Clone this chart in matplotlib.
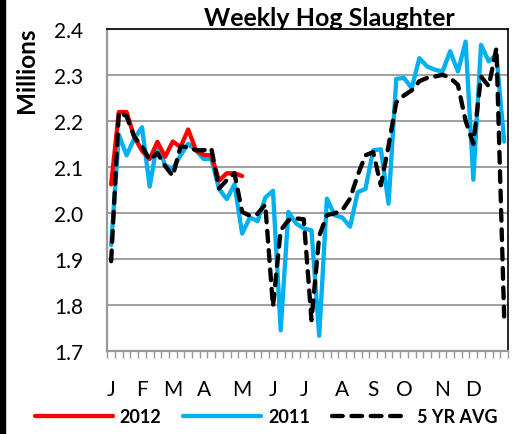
import matplotlib
matplotlib.use("Agg")
import matplotlib.pyplot as plt
from matplotlib.patches import Rectangle
import numpy as np

plt.rcParams['font.family'] = ['Lato', 'DejaVu Sans']

weeks = list(range(52))
month_labels = ["J", "F", "M", "A", "M", "J", "J", "A", "S", "O", "N", "D"]
month_weeks = [0, 4, 8, 12, 17, 21, 25, 30, 34, 38, 43, 47]

s2012 = [2.062, 2.219, 2.219, 2.165, 2.135, 2.117, 2.154, 2.122, 2.155, 2.143,
         2.181, 2.136, 2.126, 2.125, 2.070, 2.086, 2.086, 2.080]

s2011 = [1.930, 2.170, 2.125, 2.161, 2.186, 2.057, 2.154, 2.103, 2.096, 2.125,
         2.150, 2.136, 2.117, 2.117, 2.052, 2.030, 2.062, 1.955, 1.990, 1.982,
         2.033, 2.048, 1.745, 2.002, 1.977, 1.966, 1.962, 1.733, 2.031, 1.995,
         1.990, 1.970, 2.045, 2.052, 2.136, 2.138, 2.020, 2.291, 2.293, 2.271,
         2.336, 2.318, 2.311, 2.307, 2.351, 2.307, 2.372, 2.072, 2.365, 2.329,
         2.343, 2.155]

avg5 = [1.895, 2.219, 2.210, 2.165, 2.145, 2.115, 2.130, 2.102, 2.080, 2.144,
        2.143, 2.136, 2.136, 2.140, 2.053, 2.071, 2.086, 2.002, 1.994, 1.998,
        2.018, 1.797, 1.962, 1.984, 1.988, 1.986, 1.767, 1.950, 1.995, 1.999,
        2.006, 2.031, 2.082, 2.125, 2.132, 2.060, 2.146, 2.240, 2.255, 2.266,
        2.286, 2.293, 2.296, 2.300, 2.293, 2.278, 2.200, 2.150, 2.296, 2.275,
        2.358, 1.775]

W, H = 519, 435
fig = plt.figure(figsize=(W / 100, H / 100), dpi=100)
ax = fig.add_axes([107.3 / W, 1 - 352 / H, (508 - 107.3) / W, (352 - 29.7) / H])

lw = 3.1
ax.plot(weeks[:len(s2012)], s2012, color="#FF0000", lw=lw, solid_joinstyle="round",
        solid_capstyle="round", label="2012", zorder=3)
ax.plot(weeks, s2011, color="#00B0F0", lw=lw, solid_joinstyle="round",
        solid_capstyle="round", label="2011", zorder=2)
ax.plot(weeks, avg5, color="black", lw=lw, dashes=(2.5, 2.0), dash_capstyle="round",
        dash_joinstyle="round", label="5 YR AVG", zorder=4)

ax.set_xlim(-0.5, 51.5)
ax.set_ylim(1.7, 2.4)
yt = np.arange(1.7, 2.41, 0.1)
ax.set_yticks(yt)
ax.set_yticklabels([f"{v:.1f}" for v in yt], fontsize=15)
ax.yaxis.grid(True, color="#999999", lw=1.3)
ax.set_axisbelow(True)
ax.tick_params(axis="y", length=0, pad=17.5)

ax.set_xticks(month_weeks)
ax.set_xticklabels(month_labels, fontsize=15)
ax.set_xticks(np.arange(-0.5, 52, 1), minor=True)
ax.tick_params(axis="x", which="major", length=0, pad=20)
ax.tick_params(axis="x", which="minor", length=5, color="#999999", width=1)

for s in ["top", "right"]:
    ax.spines[s].set_color("black")
    ax.spines[s].set_linewidth(1.2)
for s in ["left", "bottom"]:
    ax.spines[s].set_color("#999999")
    ax.spines[s].set_linewidth(1.6)

fig.text(27 / W, 1 - 70 / H, "Millions", rotation=90, ha="center", va="center",
         fontsize=17.5, fontweight="bold")

fig.text(329 / W, 1 - 26 / H, "Weekly Hog Slaughter", ha="center", va="baseline",
         fontsize=18, fontweight="bold")

leg = fig.legend(loc="center", bbox_to_anchor=(266 / W, 1 - 418 / H), ncol=3,
                 frameon=False, prop={"weight": "bold", "size": 13},
                 handlelength=4.3, columnspacing=1.2, handletextpad=0.4)

fig.patches.append(Rectangle((0, 0), 5 / W, 1, transform=fig.transFigure,
                             color="black", zorder=10))

fig.savefig("out.png", dpi=100)
